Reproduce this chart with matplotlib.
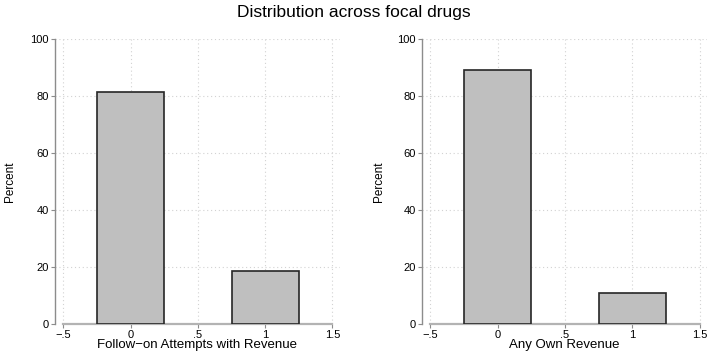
import matplotlib
matplotlib.use("Agg")
import matplotlib.pyplot as plt

plt.rcParams['font.family'] = ['Liberation Sans', 'DejaVu Sans']

categories = [0, 1]
follow_on_pct = [81.4, 18.6]
own_rev_pct = [89.1, 10.9]
xlabels = ["Follow\u2212on Attempts with Revenue", "Any Own Revenue"]
xticks = [-0.5, 0, 0.5, 1, 1.5]
xticklabels = ["\u2212.5", "0", ".5", "1", "1.5"]
yticks = [0, 20, 40, 60, 80, 100]
title = "Distribution across focal drugs"

W, H = 707, 351
fig = plt.figure(figsize=(W / 100, H / 100), dpi=100)
fig.patch.set_facecolor("white")

panels = [(55, 340, 10, follow_on_pct, xlabels[0]), (422, 707, 379, own_rev_pct, xlabels[1])]
y0px, y100px = 324, 39.3
for (lpx, rpx, ylabx, vals, xl) in panels:
    ax = fig.add_axes([lpx / W, (H - y0px) / H, (rpx - lpx) / W, (y0px - y100px) / H])
    ppu = 134.5
    xmin = -0.5 - 8.5 / ppu
    xmax = xmin + (rpx - lpx) / ppu
    ax.set_xlim(xmin, xmax)
    ax.set_ylim(0, 100)
    ax.bar(categories, vals, width=0.5, color="#bfbfbf", edgecolor="#262626",
           linewidth=1.2, zorder=3)
    ax.set_xticks(xticks)
    ax.set_xticklabels(xticklabels)
    ax.set_yticks(yticks)
    ax.grid(True, linestyle=(0, (1, 2.5)), color="#d2d2d2", linewidth=0.8, zorder=0)
    for s in ["top", "right"]:
        ax.spines[s].set_visible(False)
    ax.spines["left"].set_color("#8c8c8c")
    ax.spines["bottom"].set_color("#b3b3b3")
    ax.spines["left"].set_linewidth(1.0)
    ax.spines["bottom"].set_linewidth(1.6)
    ax.spines["bottom"].set_bounds(-0.5, 1.5)
    ax.spines["left"].set_bounds(0, 100)
    ax.tick_params(axis="both", labelsize=8, length=3, width=0.8, colors="#8c8c8c",
                   labelcolor="black", pad=1.5)
    ax.set_ylabel("Percent", fontsize=8.5,
                  family=['Liberation Sans Narrow', 'Liberation Sans', 'DejaVu Sans'])
    ax.yaxis.set_label_coords(-(lpx - ylabx) / (rpx - lpx), 0.5)
    ax.set_xlabel(xl, fontsize=9.5)
    ax.xaxis.set_label_coords(0.5, -(345 - y0px) / (y0px - y100px))
    ax.xaxis.label.set_va("center")
    ax.yaxis.label.set_va("center")
    ax.set_facecolor("white")

fig.text(0.5, 1 - 12 / H, title, ha="center", va="center", fontsize=12.5)
fig.savefig("out.png", dpi=100, facecolor="white")
